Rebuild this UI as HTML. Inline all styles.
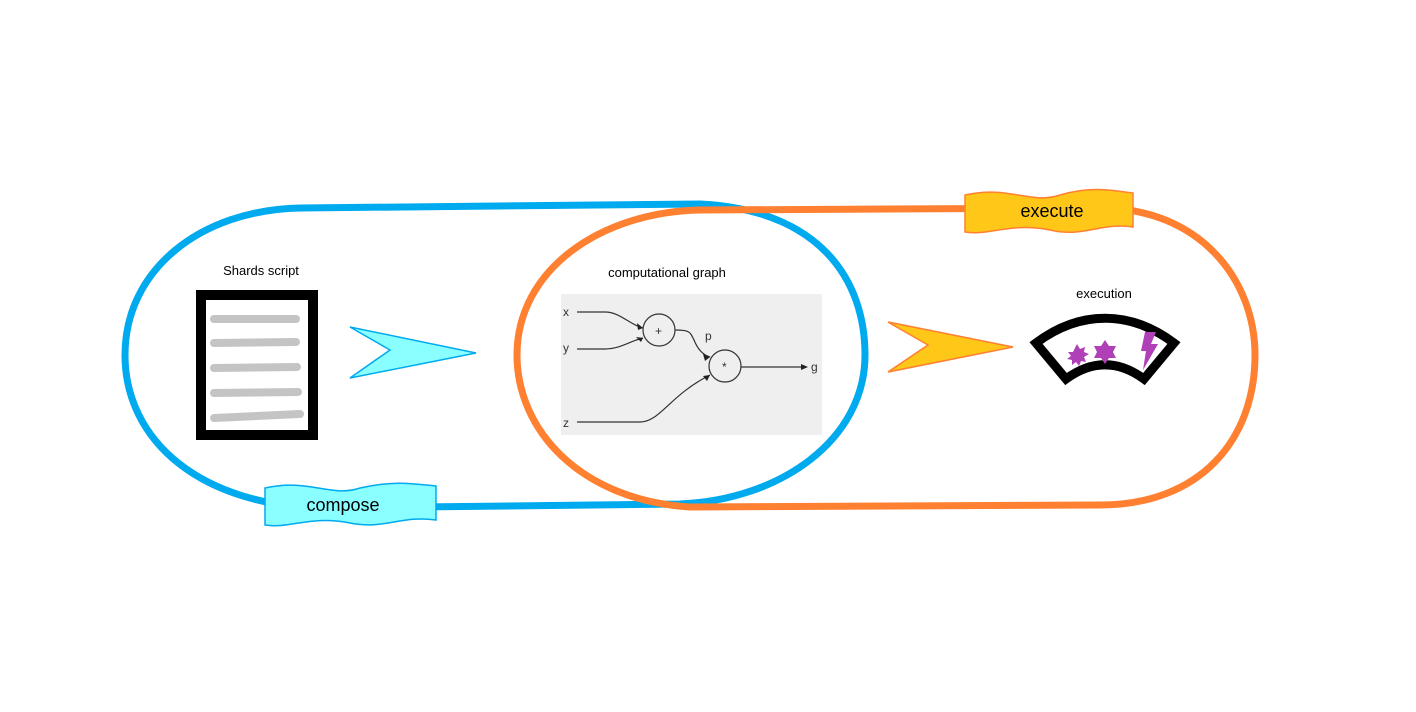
<!DOCTYPE html>
<html><head><style>body{margin:0;background:#fff}svg{display:block}</style></head><body>
<svg width="1416" height="712" viewBox="0 0 1416 712" font-family="Liberation Sans, sans-serif">
<rect width="1416" height="712" fill="#fff"/>
<!-- graph image -->
<rect x="561" y="294" width="261" height="141" fill="#efefef"/>
<g stroke="#333" fill="none" stroke-width="1.2">
<path d="M577,312 L605,312 C620,312 630,325 643,328"/>
<path d="M577,349 L605,349 C620,349 630,341 643,338"/>
<circle cx="659" cy="330" r="16" fill="none"/>
<path d="M675,330 C690,330 690,332 694,340 C698,350 703,355 710,357"/>
<circle cx="725" cy="366" r="16"/>
<path d="M577,422 L640,422 C660,422 670,395 710,375"/>
<path d="M741,367 L805,367"/>
</g>
<g fill="#222">
<path d="M643,328 l-6,-5 l1,7z"/><path d="M643,338 l-7,-1 l5,5z"/>
<path d="M710,357 l-7,-3 l2,7z"/><path d="M710,375 l-7,1 l4,5z"/><path d="M808,367 l-7,-3 v6z"/>
</g>
<g font-size="12" fill="#333">
<text x="563" y="316">x</text><text x="563" y="352">y</text><text x="563" y="427">z</text>
<text x="655" y="335">+</text><text x="722" y="371">*</text><text x="705" y="340">p</text><text x="811" y="371">g</text>
</g>
<!-- loops -->
<path d="M300,208 L700,204 C820,210 865,280 865,355 C865,440 780,500 680,504 L330,508 C200,508 125,440 125,355 C125,270 200,210 300,208 Z" fill="none" stroke="#00aaee" stroke-width="7"/>
<path d="M700,210 L1100,208 C1200,208 1255,280 1255,355 C1255,440 1200,505 1100,505 L690,507 C580,500 517,430 517,355 C517,270 600,212 700,210 Z" fill="none" stroke="#ff8030" stroke-width="7"/>
<!-- banners -->
<path d="M965,195 C1010,185 1030,205 1060,195 C1090,186 1110,190 1133,193 L1133,227 C1100,222 1085,238 1050,230 C1010,222 990,236 965,232 Z" fill="#ffc819" stroke="#ff8030" stroke-width="1.5"/>
<text x="1052" y="217" font-size="18" text-anchor="middle">execute</text>
<path d="M265,488 C310,478 330,498 360,488 C395,480 415,484 436,486 L436,520 C400,515 385,530 350,523 C310,515 290,529 265,525 Z" fill="#8affff" stroke="#00aaee" stroke-width="1.5"/>
<text x="343" y="511" font-size="18" text-anchor="middle">compose</text>
<!-- arrows -->
<path d="M350,327 L476,353 L350,378 L390,350 Z" fill="#8affff" stroke="#00aaee" stroke-width="1.5"/>
<path d="M888,322 L1013,347 L888,372 L928,345 Z" fill="#ffc819" stroke="#ff8030" stroke-width="1.5"/>
<!-- document -->
<text x="261" y="275" font-size="13" text-anchor="middle">Shards script</text>
<rect x="201" y="295" width="112" height="140" fill="#fff" stroke="#000" stroke-width="10"/>
<g stroke="#c4c4c4" stroke-width="8" stroke-linecap="round">
<line x1="214" y1="319" x2="296" y2="319"/><line x1="214" y1="343" x2="296" y2="342"/>
<line x1="214" y1="368" x2="297" y2="367"/><line x1="214" y1="393" x2="298" y2="392"/><line x1="214" y1="418" x2="300" y2="414"/>
</g>
<text x="667" y="277" font-size="13" text-anchor="middle">computational graph</text>
<text x="1104" y="298" font-size="13" text-anchor="middle">execution</text>
<!-- execution fan -->
<path d="M1036,343 C1080,310 1130,310 1174,343 L1144,379 C1118,360 1092,360 1066,379 Z" fill="#fff" stroke="#000" stroke-width="9" stroke-linejoin="miter"/>
<g fill="#b040b8">
<path d="M1077,344 l3,5 5,-2 -1,5 5,2 -5,3 2,5 -5,-1 -2,5 -3,-4 -4,3 0,-5 -5,-1 4,-3 -3,-4 5,0z"/>
<path d="M1105,340 l4,6 7,0 -3,6 3,6 -7,0 -4,6 -4,-6 -7,0 3,-6 -3,-6 7,0z"/>
<path d="M1145,332 l11,0 -5,12 7,0 -15,26 3,-19 -5,0z"/>
</g>
</svg>
</body></html>
